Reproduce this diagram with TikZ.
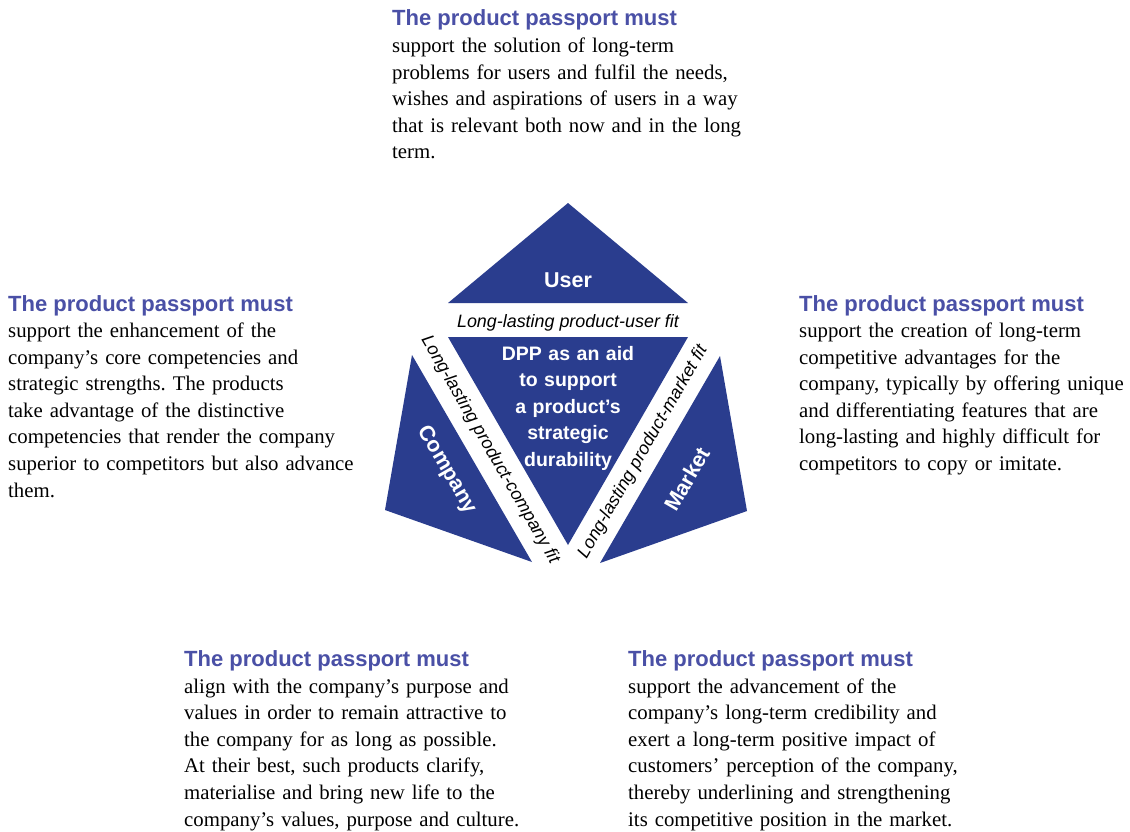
\documentclass[tikz,border=0pt]{standalone}
\usepackage{fontspec}
\setmainfont{Liberation Serif}
\setsansfont{Liberation Sans}
\usetikzlibrary{positioning}
\definecolor{dppnavy}{RGB}{42,61,142}
\definecolor{dpphead}{RGB}{74,80,166}
\frenchspacing

\begin{document}
\begin{tikzpicture}[x=1pt,y=-1pt,
    head/.style={anchor=base west, inner sep=0pt, text=dpphead,
      font=\sffamily\bfseries\fontsize{22}{26}\selectfont},
    body/.style={anchor=base west, inner sep=0pt, text width=400pt, align=left,
      font=\fontsize{20.8}{26.6}\selectfont},
    piece/.style={fill=dppnavy},
    side/.style={inner sep=0pt, text=white,
      font=\sffamily\bfseries\fontsize{21.5}{26}\selectfont},
    fitlabel/.style={inner sep=0pt, font=\sffamily\itshape\fontsize{17.9}{20}\selectfont}]
    \fill[white] (0,0) rectangle (1130,831);
    \useasboundingbox (0,0) rectangle (1130,831);

    % the four pieces
    \coordinate (u1) at (568,203);
    \coordinate (u2) at (448,303);
    \coordinate (u3) at (688,303);
    \coordinate (m1) at (448,337);
    \coordinate (m2) at (688,337);
    \coordinate (m3) at (568,545);
    \coordinate (c1) at (412,355);
    \coordinate (c2) at (385,510);
    \coordinate (c3) at (532,562);
    \coordinate (k1) at (720,356);
    \coordinate (k2) at (747,511);
    \coordinate (k3) at (600,563);
    \fill[piece] (u1) -- (u2) -- (u3) -- cycle;
    \fill[piece] (m1) -- (m2) -- (m3) -- cycle;
    \fill[piece] (c1) -- (c2) -- (c3) -- cycle;
    \fill[piece] (k1) -- (k2) -- (k3) -- cycle;

    \node[side, anchor=base] (user) at (568,287) {User};
    \node[side, rotate=-60] (company) at (447,470) {Company};
    \node[side, rotate=60] (market) at (687,479) {Market};
    \node[side, anchor=base, text width=160pt, align=center,
      font=\sffamily\bfseries\fontsize{19.5}{26.5}\selectfont] (aim) at (568,360)
      {DPP as an aid\\to support\\a product’s\\strategic\\durability};

    % fits in the white gaps
    \node[fitlabel, anchor=base] (fitU) at (568,327) {Long-lasting product-user fit};
    \node[fitlabel, rotate=-60] (fitC) at (490,450) {Long-lasting product-company fit};
    \node[fitlabel, rotate=60] (fitM) at (643,452) {Long-lasting product-market fit};

    % text blocks
    \node[head] (headU) at (392,25) {The product passport must};
    \node[body] (txtU) at ([yshift=-27.5pt]headU.base west)
      {support the solution of long-term\\
       problems for users and fulfil the needs,\\
       wishes and aspirations of users in a way\\
       that is relevant both now and in the long\\
       term.};

    \node[head] (headC) at (8,311) {The product passport must};
    \node[body] (txtC) at ([yshift=-26.5pt]headC.base west)
      {support the enhancement of the\\
       company’s core competencies and\\
       strategic strengths. The products\\
       take advantage of the distinctive\\
       competencies that render the company\\
       superior to competitors but also advance\\
       them.};

    \node[head] (headM) at (799,311) {The product passport must};
    \node[body] (txtM) at ([yshift=-26.5pt]headM.base west)
      {support the creation of long-term\\
       competitive advantages for the\\
       company, typically by offering unique\\
       and differentiating features that are\\
       long-lasting and highly difficult for\\
       competitors to copy or imitate.};

    \node[head] (headV) at (184,666.5) {The product passport must};
    \node[body] (txtV) at ([yshift=-26.5pt]headV.base west)
      {align with the company’s purpose and\\
       values in order to remain attractive to\\
       the company for as long as possible.\\
       At their best, such products clarify,\\
       materialise and bring new life to the\\
       company’s values, purpose and culture.};

    \node[head] (headP) at (628,666.5) {The product passport must};
    \node[body] (txtP) at ([yshift=-26.5pt]headP.base west)
      {support the advancement of the\\
       company’s long-term credibility and\\
       exert a long-term positive impact of\\
       customers’ perception of the company,\\
       thereby underlining and strengthening\\
       its competitive position in the market.};
\end{tikzpicture}
\end{document}
